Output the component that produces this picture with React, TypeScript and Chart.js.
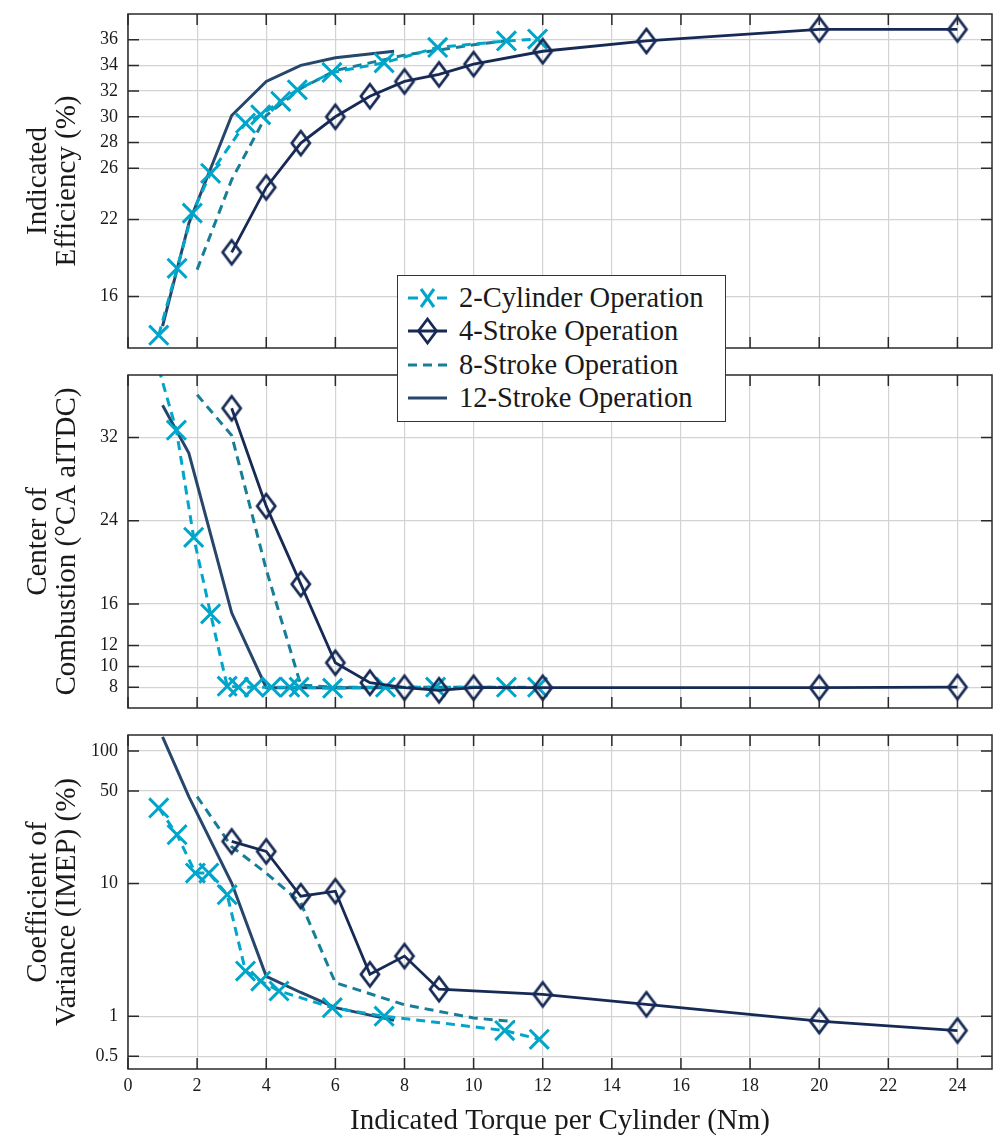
import React, { useEffect, useRef } from 'react';
import { Chart, registerables } from 'chart.js';

Chart.register(...registerables);

const FONT = "'Liberation Serif', 'Times New Roman', serif";

// ---------- tick labels ----------
const torqueTicks = [0, 2, 4, 6, 8, 10, 12, 14, 16, 18, 20, 22, 24];
const efficiencyTicks = [16, 22, 26, 28, 30, 32, 34, 36];
const combustionTicks = [8, 10, 12, 16, 24, 32];
const covTicks = [0.5, 1, 10, 50, 100];

const seriesLabels = ['2-Cylinder Operation', '4-Stroke Operation', '8-Stroke Operation', '12-Stroke Operation'];

// ---------- 2-cylinder operation ----------
const cyl2TorqueEff = [0.89, 1.42, 1.86, 2.39, 3.4, 3.84, 4.42, 4.9, 5.9, 7.41, 8.96, 10.95, 11.85];
const cyl2Eff = [13.0, 18.2, 22.5, 25.6, 29.5, 30.15, 31.2, 32.1, 33.45, 34.2, 35.4, 35.9, 36.05];
const cyl2TorqueCoc = [0.89, 1.4, 1.9, 2.39, 2.87, 3.2, 3.65, 4.15, 4.68, 4.95, 5.92, 7.45, 8.9, 10.95, 11.85];
const cyl2Coc = [38.6, 32.7, 22.4, 15.05, 8.1, 8.0, 8.0, 8.0, 8.0, 8.0, 7.9, 8.0, 8.0, 8.0, 8.0];
const cyl2TorqueCov = [0.89, 1.42, 1.95, 2.34, 2.87, 3.4, 3.84, 4.37, 5.91, 7.41, 10.9, 11.9];
const cyl2Cov = [37.2, 23.4, 12.0, 12.0, 8.25, 2.19, 1.84, 1.55, 1.16, 1.0, 0.78, 0.67];

// ---------- 4-stroke operation ----------
const stroke4Torque = [3, 4, 5, 6, 7, 8, 9, 10, 12, 15, 20, 24];
const stroke4Eff = [19.45, 24.5, 27.95, 30.0, 31.6, 32.75, 33.3, 34.1, 35.1, 35.9, 36.8, 36.8];
const stroke4Coc = [34.8, 25.4, 17.9, 10.35, 8.43, 7.95, 7.7, 7.95, 7.95, null, 7.95, 8.0];
const stroke4Cov = [20.8, 17.5, 8.03, 8.76, 2.07, 2.84, 1.6, null, 1.46, 1.23, 0.92, 0.78];

// ---------- 8-stroke operation ----------
const stroke8Torque = [2, 3, 4, 5, 6, 8, 10, 11.2];
const stroke8Eff = [18.1, 25.1, 30.1, 32.2, 33.6, 34.8, 35.6, 36.0];
const stroke8Coc = [36.1, 32.2, 19.3, 8.2, 8.0, 8.0, 8.0, 8.0];
const stroke8Cov = [45.3, 19.0, 12.0, 7.16, 1.79, 1.22, 0.97, 0.91];

// ---------- 12-stroke operation ----------
const stroke12Torque = [1, 1.76, 3, 4, 5, 6, 7.7];
const stroke12Eff = [13.7, 21.7, 30.1, 32.75, 34.0, 34.6, 35.1];
const stroke12Coc = [35.1, 30.5, 15.15, 7.95, 7.95, 7.95, 7.95];
const stroke12Cov = [128, 45.3, 10.1, 2.0, 1.51, 1.16, 0.93];

const C_CYL2 = '#00A6CA';
const C_S4 = '#172A55';
const C_S8 = '#177E97';
const C_S12 = '#26466B';
const GRID = '#d3d3d3';
const FRAME = '#2a2a2a';
const TEXT = '#1a1a1a';

function pts(xs: number[], ys: (number | null)[]) {
  return xs.map((x, i) => ({ x, y: ys[i] }));
}

function makeDiamond(color: string) {
  const c = document.createElement('canvas');
  c.width = 26;
  c.height = 32;
  const g = c.getContext('2d')!;
  g.strokeStyle = color;
  g.lineWidth = 2.8;
  g.lineJoin = 'miter';
  g.beginPath();
  g.moveTo(13, 4);
  g.lineTo(22, 16);
  g.lineTo(13, 28);
  g.lineTo(4, 16);
  g.closePath();
  g.stroke();
  return c;
}

const framePlugin = {
  id: 'frame',
  afterDatasetsDraw(chart: any) {
    const { ctx, chartArea: a, scales } = chart;
    const L = 11;
    ctx.save();
    ctx.strokeStyle = FRAME;
    ctx.lineWidth = 1.5;
    ctx.beginPath();
    for (const t of scales.x.ticks) {
      const px = scales.x.getPixelForValue(t.value);
      ctx.moveTo(px, a.top);
      ctx.lineTo(px, a.top + L);
      ctx.moveTo(px, a.bottom);
      ctx.lineTo(px, a.bottom - L);
    }
    for (const t of scales.y.ticks) {
      const py = scales.y.getPixelForValue(t.value);
      ctx.moveTo(a.left, py);
      ctx.lineTo(a.left + L, py);
      ctx.moveTo(a.right, py);
      ctx.lineTo(a.right - L, py);
    }
    ctx.stroke();
    ctx.strokeRect(a.left, a.top, a.right - a.left, a.bottom - a.top);
    ctx.restore();
  },
};

function zeroPad(s: any) {
  s.paddingTop = 0;
  s.paddingBottom = 0;
  s.paddingLeft = 0;
  s.paddingRight = 0;
}

interface PanelSpec {
  cyl2: [number[], (number | null)[]];
  s4: (number | null)[];
  s8: (number | null)[];
  s12: (number | null)[];
  yType: 'linear' | 'logarithmic';
  yMin: number;
  yMax: number;
  yTicks: number[];
  yTitle: string[];
  padTop: number;
  xHeight: number;
  showX: boolean;
}

function buildConfig(p: PanelSpec, diamond: HTMLCanvasElement): any {
  const datasets = [
    {
      label: seriesLabels[1],
      data: pts(stroke4Torque, p.s4),
      borderColor: C_S4,
      borderWidth: 2.8,
      pointStyle: diamond,
      pointRadius: 11,
      pointHoverRadius: 11,
      pointBorderColor: C_S4,
      pointBackgroundColor: 'rgba(0,0,0,0)',
      spanGaps: true,
      order: 0,
    },
    {
      label: seriesLabels[0],
      data: pts(p.cyl2[0], p.cyl2[1]),
      borderColor: C_CYL2,
      borderWidth: 3,
      borderDash: [9, 6],
      pointStyle: 'crossRot',
      pointRadius: (c: any) => (c.raw && c.raw.y != null && c.raw.y <= p.yMax ? 13.5 : 0),
      pointHoverRadius: 13.5,
      pointBorderWidth: 3,
      pointBorderColor: C_CYL2,
      pointBackgroundColor: C_CYL2,
      order: 1,
    },
    {
      label: seriesLabels[2],
      data: pts(stroke8Torque, p.s8),
      borderColor: C_S8,
      borderWidth: 3,
      borderDash: [9, 6],
      pointRadius: 0,
      order: 2,
    },
    {
      label: seriesLabels[3],
      data: pts(stroke12Torque, p.s12),
      borderColor: C_S12,
      borderWidth: 3,
      pointRadius: 0,
      order: 3,
    },
  ];

  return {
    type: 'line',
    data: { datasets },
    options: {
      responsive: false,
      animation: false,
      events: [],
      layout: { autoPadding: false, padding: { left: 0, right: 1, top: p.padTop, bottom: 0 } },
      elements: { line: { tension: 0 } },
      plugins: { legend: { display: false }, tooltip: { enabled: false } },
      scales: {
        x: {
          type: 'linear',
          min: 0,
          max: 25,
          afterBuildTicks: (s: any) => {
            s.ticks = torqueTicks.map((v) => ({ value: v }));
          },
          afterFit: (s: any) => {
            s.height = p.xHeight;
            zeroPad(s);
          },
          grid: { color: GRID, lineWidth: 1.2, drawTicks: false },
          border: { display: false },
          ticks: {
            display: p.showX,
            autoSkip: false,
            maxRotation: 0,
            padding: 6,
            color: TEXT,
            font: { family: FONT, size: 18 },
          },
          title: {
            display: p.showX,
            text: 'Indicated Torque per Cylinder (Nm)',
            color: TEXT,
            font: { family: FONT, size: 29, lineHeight: 1 },
            padding: { top: 0, bottom: 0 },
          },
        },
        y: {
          type: p.yType,
          min: p.yMin,
          max: p.yMax,
          afterBuildTicks: (s: any) => {
            s.ticks = p.yTicks.map((v) => ({ value: v }));
          },
          afterFit: (s: any) => {
            s.width = 128;
            zeroPad(s);
          },
          grid: { color: GRID, lineWidth: 1.2, drawTicks: false },
          border: { display: false },
          ticks: {
            autoSkip: false,
            padding: 10,
            color: TEXT,
            font: { family: FONT, size: 18 },
            callback: (v: any) => String(v),
          },
          title: {
            display: true,
            text: p.yTitle,
            color: TEXT,
            font: { family: FONT, size: 29, lineHeight: 1 },
            padding: { top: 24, bottom: 0 },
          },
        },
      },
    },
    plugins: [framePlugin],
  };
}

function LegendRow({ kind, label }: { kind: number; label: string }) {
  let sample: React.ReactNode = null;
  if (kind === 0) {
    sample = (
      <g stroke={C_CYL2} strokeWidth={3}>
        <line x1={10} y1={15} x2={20} y2={15} />
        <line x1={39} y1={15} x2={49} y2={15} />
        <line x1={23} y1={6} x2={36} y2={24} />
        <line x1={36} y1={6} x2={23} y2={24} />
      </g>
    );
  } else if (kind === 1) {
    sample = (
      <g stroke={C_S4} strokeWidth={2.8} fill="none">
        <line x1={10} y1={15} x2={49} y2={15} />
        <path d="M29.5 3 L38.5 15 L29.5 27 L20.5 15 Z" />
      </g>
    );
  } else if (kind === 2) {
    sample = (
      <g stroke={C_S8} strokeWidth={3}>
        <line x1={10} y1={15} x2={19} y2={15} />
        <line x1={25} y1={15} x2={34} y2={15} />
        <line x1={40} y1={15} x2={49} y2={15} />
      </g>
    );
  } else {
    sample = (
      <g stroke={C_S12} strokeWidth={3}>
        <line x1={10} y1={15} x2={49} y2={15} />
      </g>
    );
  }
  return (
    <div style={{ height: 33.5, display: 'flex', alignItems: 'center' }}>
      <svg width={58} height={30} style={{ flex: '0 0 auto', display: 'block' }}>
        {sample}
      </svg>
      <span style={{ marginLeft: 3, fontFamily: FONT, fontSize: 28.5, lineHeight: '28px', color: TEXT, whiteSpace: 'nowrap' }}>
        {label}
      </span>
    </div>
  );
}

export default function App() {
  const r1 = useRef<HTMLCanvasElement>(null);
  const r2 = useRef<HTMLCanvasElement>(null);
  const r3 = useRef<HTMLCanvasElement>(null);

  useEffect(() => {
    const diamond = makeDiamond(C_S4);
    const charts = [
      new Chart(
        r1.current!,
        buildConfig(
          {
            cyl2: [cyl2TorqueEff, cyl2Eff],
            s4: stroke4Eff,
            s8: stroke8Eff,
            s12: stroke12Eff,
            yType: 'linear',
            yMin: 12,
            yMax: 38,
            yTicks: efficiencyTicks,
            yTitle: ['Indicated', 'Efficiency (%)'],
            padTop: 14,
            xHeight: 12,
            showX: false,
          },
          diamond
        )
      ),
      new Chart(
        r2.current!,
        buildConfig(
          {
            cyl2: [cyl2TorqueCoc, cyl2Coc],
            s4: stroke4Coc,
            s8: stroke8Coc,
            s12: stroke12Coc,
            yType: 'linear',
            yMin: 6,
            yMax: 38,
            yTicks: combustionTicks,
            yTitle: ['Center of', 'Combustion (°CA aITDC)'],
            padTop: 13,
            xHeight: 14,
            showX: false,
          },
          diamond
        )
      ),
      new Chart(
        r3.current!,
        buildConfig(
          {
            cyl2: [cyl2TorqueCov, cyl2Cov],
            s4: stroke4Cov,
            s8: stroke8Cov,
            s12: stroke12Cov,
            yType: 'logarithmic',
            yMin: 0.4,
            yMax: 132,
            yTicks: covTicks,
            yTitle: ['Coefficient of', 'Variance (IMEP) (%)'],
            padTop: 13,
            xHeight: 67,
            showX: true,
          },
          diamond
        )
      ),
    ];
    return () => charts.forEach((c) => c.destroy());
  }, []);

  return (
    <div style={{ position: 'absolute', left: 0, top: 0, width: 993, height: 1136, background: '#fff', overflow: 'hidden' }}>
      <canvas ref={r1} width={993} height={360} style={{ position: 'absolute', left: 0, top: 0 }} />
      <canvas ref={r2} width={993} height={360} style={{ position: 'absolute', left: 0, top: 362 }} />
      <canvas ref={r3} width={993} height={414} style={{ position: 'absolute', left: 0, top: 722 }} />
      <div
        style={{
          position: 'absolute',
          left: 397,
          top: 275,
          width: 329,
          height: 147,
          boxSizing: 'border-box',
          border: '1.5px solid #333',
          background: '#fff',
          paddingTop: 5,
          zIndex: 5,
        }}
      >
        {seriesLabels.map((l, i) => (
          <LegendRow key={l} kind={i} label={l} />
        ))}
      </div>
    </div>
  );
}
